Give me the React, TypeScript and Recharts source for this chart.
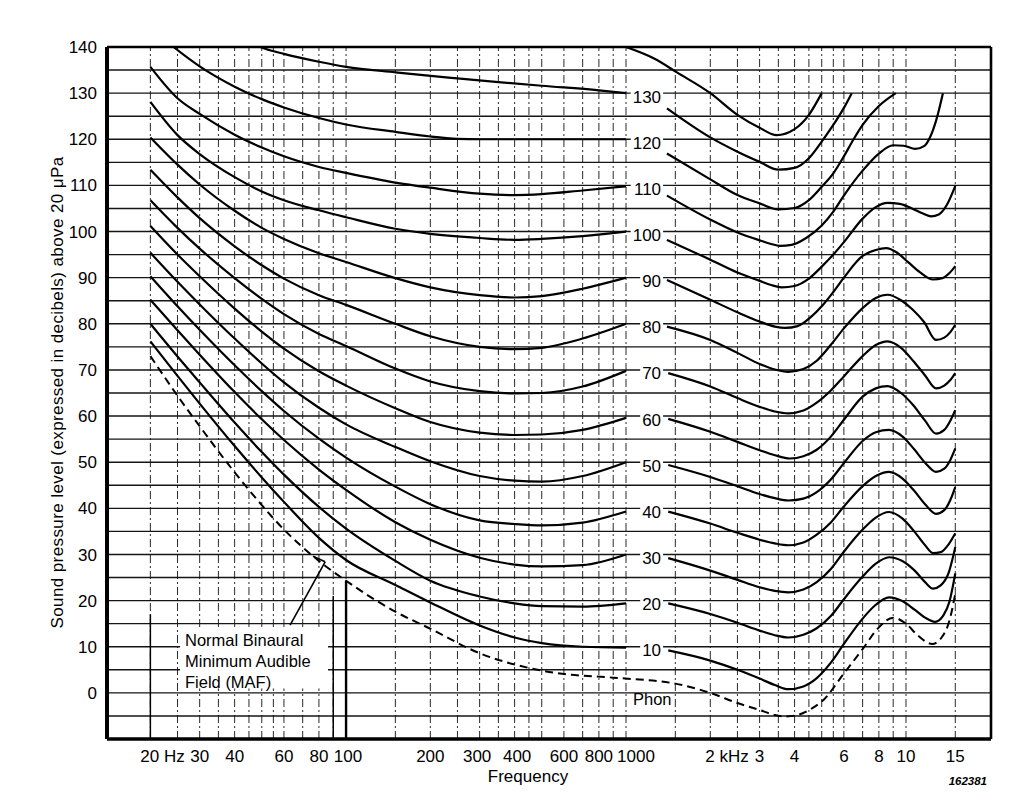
import React from "react";
import {
  ComposedChart,
  Line,
  Scatter,
  XAxis,
  YAxis,
  ReferenceLine,
  Label,
} from "recharts";

const FONT = "'Liberation Sans', Arial, Helvetica, sans-serif";
const INK = "#000";

// axes
const X_DOMAIN = [14.0, 20120];
const Y_DOMAIN = [-10, 140];
const X_TICKS = [20, 30, 40, 60, 80, 100, 200, 300, 400, 600, 800, 1000, 2000, 3000, 4000, 6000, 8000, 10000, 15000];
const X_TICK_LABELS = ["20 Hz", "30", "40", "60", "80", "100", "200", "300", "400", "600", "800", "1000", "2 kHz", "3", "4", "6", "8", "10", "15"];
const Y_TICKS = [0, 10, 20, 30, 40, 50, 60, 70, 80, 90, 100, 110, 120, 130, 140];
const H_GRID = [-5, 0, 5, 10, 15, 20, 25, 30, 35, 40, 45, 50, 55, 60, 65, 70, 75, 80, 85, 90, 95, 100, 105, 110, 115, 120, 125, 130, 135];
const V_GRID = [20, 25, 30, 35, 40, 45, 50, 55, 60, 70, 80, 90, 100, 150, 200, 250, 300, 350, 400, 450, 500, 600, 700, 800, 900, 1000, 1500, 2000, 2500, 3000, 3500, 4000, 4500, 5000, 5500, 6000, 7000, 8000, 9000, 10000, 15000];

type Pt = [number, number]; // [Hz, dB]

// minimum audible field (dashed)
const MAF: Pt[] = [[20, 73], [25, 64.4], [30, 57.8], [40, 47.8], [50, 40.7], [60, 35.4], [80, 28.6], [100, 24.3], [150, 17.6], [200, 13.9], [300, 8.6], [450, 5.4], [600, 4.1], [900, 3.3], [1500, 2], [2000, 0], [2500, -2.2], [3000, -3.7], [3400, -4.8], [3700, -5.1], [4100, -4.8], [4600, -3.4], [5000, -1.9], [6000, 4.2], [7000, 9.5], [8000, 14.2], [9000, 16.3], [10000, 15], [11000, 12.5], [12400, 10.6], [13400, 12], [14300, 15.7], [15000, 21.5]];

// equal loudness contours: part up to 1 kHz, and part after the label gap
const PHON_10_LOW: Pt[] = [[20, 76.2], [25, 68.7], [30, 62.7], [40, 53.5], [50, 46.7], [60, 41.4], [80, 33.6], [100, 28.8], [150, 23.4], [200, 19.6], [300, 14.6], [400, 12], [500, 10.8], [700, 10], [1000, 9.8]];
const PHON_10_HIGH: Pt[] = [[1415, 9.2], [2000, 7], [2500, 5], [3000, 3.1], [3400, 1.7], [3800, 0.8], [4300, 1.4], [4800, 3.2], [5400, 6.6], [6000, 10.6], [7000, 16.1], [7800, 19.1], [8700, 20.7], [9700, 19.9], [10700, 18.1], [11700, 16.3], [12700, 15.4], [13600, 16.8], [14300, 19.8], [15000, 25.9]];

const PHON_20_LOW: Pt[] = [[20, 80], [25, 72.9], [30, 67.3], [40, 58.6], [50, 52.2], [60, 47.3], [80, 40.3], [100, 35.6], [150, 28.6], [200, 24.3], [300, 20.9], [400, 19.4], [500, 18.8], [700, 18.7], [1000, 19.4]];
const PHON_20_HIGH: Pt[] = [[1415, 19.4], [2000, 17.1], [2500, 15.2], [3000, 13.5], [3400, 12.5], [3800, 12], [4300, 12.6], [4800, 14], [5400, 16.7], [6000, 20.3], [7000, 25.2], [7800, 28], [8700, 29.4], [9700, 28.6], [10700, 26.6], [11700, 24], [12500, 22.6], [13300, 23.3], [14200, 26], [15000, 31.6]];

const PHON_30_LOW: Pt[] = [[20, 85.2], [25, 78.6], [30, 73.3], [40, 65.2], [50, 59.3], [60, 54.8], [80, 48.4], [100, 44], [150, 37], [200, 33.2], [300, 29.3], [400, 27.8], [500, 27.4], [700, 27.7], [1000, 30]];
const PHON_30_HIGH: Pt[] = [[1415, 29.2], [2000, 26.5], [2500, 24.5], [3000, 22.9], [3400, 22.1], [3800, 21.8], [4300, 22.4], [4800, 24], [5400, 26.9], [6000, 30.6], [7000, 35.4], [7800, 38], [8700, 39.2], [9700, 37.8], [10700, 35], [11700, 32], [12500, 30.3], [13300, 30.5], [14200, 32.2], [15000, 34.6]];

const PHON_40_LOW: Pt[] = [[20, 90.3], [25, 83.8], [30, 78.7], [40, 71], [50, 65.4], [60, 61.1], [80, 55.1], [100, 51], [150, 44.7], [200, 40.9], [300, 37.4], [400, 36.6], [500, 36.3], [700, 36.9], [1000, 39.3]];
const PHON_40_HIGH: Pt[] = [[1415, 39.3], [2000, 36.7], [2500, 34.7], [3000, 33.2], [3400, 32.4], [3800, 32], [4300, 32.6], [4800, 34.3], [5400, 37], [6000, 40.4], [7000, 44.8], [7800, 47], [8700, 47.9], [9700, 46.5], [10700, 43.8], [11700, 40.9], [12800, 38.8], [13700, 39.6], [14400, 41.8], [15000, 44.6]];

const PHON_50_LOW: Pt[] = [[20, 95.4], [25, 89.1], [30, 84.2], [40, 76.8], [50, 71.4], [60, 67.3], [80, 61.8], [100, 58.2], [150, 53.3], [200, 50.2], [300, 47], [400, 46], [500, 45.8], [700, 47], [1000, 50]];
const PHON_50_HIGH: Pt[] = [[1415, 49.4], [2000, 46.8], [2500, 44.8], [3000, 43.1], [3400, 42.2], [3800, 41.7], [4300, 42.1], [4800, 43.5], [5400, 46.3], [6000, 49.8], [7000, 54.6], [7800, 56.5], [8700, 57], [9700, 55.6], [10700, 52.8], [11700, 49.9], [12800, 47.9], [13700, 48.6], [14400, 50.5], [15000, 53]];

const PHON_60_LOW: Pt[] = [[20, 101.2], [25, 95], [30, 90.3], [40, 83.3], [50, 78.3], [60, 74.6], [80, 69.7], [100, 66.6], [150, 61.7], [200, 58.7], [300, 56.4], [400, 55.9], [500, 56], [700, 57], [1000, 59.6]];
const PHON_60_HIGH: Pt[] = [[1415, 59.4], [2000, 56.6], [2500, 54.4], [3000, 52.6], [3400, 51.5], [3850, 50.8], [4300, 51.3], [4800, 52.7], [5400, 55.6], [6000, 59.2], [7000, 64.2], [7800, 66], [8600, 66.5], [9600, 65], [10600, 62.4], [11700, 59], [12800, 56.2], [13700, 57], [14400, 59], [15000, 61.3]];

const PHON_70_LOW: Pt[] = [[20, 106.8], [25, 100.8], [30, 96.3], [40, 89.9], [50, 85.4], [60, 82.1], [80, 77.8], [100, 75.2], [150, 70.3], [200, 67.5], [300, 65.4], [400, 64.9], [500, 65], [700, 66.4], [1000, 69.8]];
const PHON_70_HIGH: Pt[] = [[1415, 69.3], [2000, 66.4], [2500, 63.9], [3000, 62], [3400, 61], [3800, 60.6], [4300, 61.2], [4800, 62.9], [5400, 65.6], [6000, 68.6], [7000, 73], [7800, 75.4], [8600, 76.2], [9600, 74.8], [10600, 72], [11700, 68.8], [12800, 66], [13700, 66.6], [14400, 67.8], [15000, 69.3]];

const PHON_80_LOW: Pt[] = [[20, 113.4], [25, 107.4], [30, 102.9], [40, 96.8], [50, 92.7], [60, 89.8], [80, 86.2], [100, 84.1], [150, 80], [200, 77.3], [300, 75], [400, 74.5], [500, 74.8], [700, 76.8], [1000, 80]];
const PHON_80_HIGH: Pt[] = [[1400, 79.4], [2000, 76.5], [2500, 73.7], [3000, 71.3], [3400, 70.1], [3800, 69.6], [4300, 70.2], [4800, 72], [5400, 75.5], [6000, 79], [7000, 83.4], [7800, 85.6], [8600, 86.3], [9600, 85.1], [10600, 83], [11600, 80.4], [12800, 76.5], [13700, 77], [14400, 78.2], [15000, 79.8]];

const PHON_90_LOW: Pt[] = [[20, 120.4], [25, 114.5], [30, 110.2], [40, 104.5], [50, 100.8], [60, 98.4], [80, 95.3], [100, 93.4], [150, 89.9], [200, 87.9], [300, 86.2], [400, 85.7], [500, 86], [700, 87.6], [1000, 90]];
const PHON_90_HIGH: Pt[] = [[1400, 89.5], [2000, 85.2], [2500, 82.5], [3000, 80.5], [3400, 79.4], [3700, 79.1], [4100, 79.5], [4600, 81.6], [5000, 83.8], [5500, 86.9], [6000, 90], [7000, 94.7], [7800, 96], [8500, 96.4], [9300, 95.4], [10200, 93.3], [11200, 91.2], [12500, 89.6], [13500, 89.9], [14300, 91], [15000, 92.5]];

const PHON_100_LOW: Pt[] = [[20, 128.1], [25, 120.9], [30, 116.8], [40, 111.8], [50, 108.7], [60, 106.8], [80, 104.6], [100, 103.1], [150, 100.6], [200, 99.5], [300, 98.6], [400, 98.2], [500, 98.4], [700, 99], [1000, 100]];
const PHON_100_HIGH: Pt[] = [[1400, 98.2], [2000, 93.9], [2500, 91.1], [3000, 89.3], [3300, 88.4], [3600, 87.9], [4000, 88.2], [4500, 89.8], [5000, 92.4], [5500, 95], [6000, 97.7], [7000, 102.8], [7800, 105.3], [8600, 106.2], [9500, 106], [10500, 105], [11500, 103.9], [12300, 103.3], [13100, 103.7], [14000, 105.8], [15000, 109.9]];

const PHON_110_LOW: Pt[] = [[20, 135.7], [25, 128.9], [30, 125.5], [40, 121], [50, 118.2], [60, 116.3], [80, 114], [100, 112.7], [150, 110.6], [200, 109.5], [300, 108.2], [400, 107.9], [500, 108.1], [700, 108.9], [1000, 109.8]];
const PHON_110_HIGH: Pt[] = [[1400, 107.8], [2000, 102.6], [2500, 99.8], [3000, 98.1], [3300, 97.3], [3550, 96.9], [3900, 97.1], [4400, 98.6], [5000, 101.3], [5500, 104.3], [6000, 107.8], [7000, 113.2], [8000, 116.9], [9000, 118.7], [9800, 118.6], [10800, 117.9], [11600, 118.5], [12200, 120.5], [12800, 124], [13550, 130]];

const PHON_120_LOW: Pt[] = [[20, 144.2], [24.2, 140], [30, 135.8], [40, 131.4], [50, 128.7], [60, 126.9], [80, 124.6], [100, 123.2], [150, 121.6], [200, 120.6], [250, 120.1], [300, 120], [400, 120], [700, 120], [1000, 120]];
const PHON_120_HIGH: Pt[] = [[1400, 116.9], [2000, 111.3], [2500, 107.9], [3000, 106.1], [3500, 104.8], [4000, 105.1], [4500, 106.8], [5000, 109.7], [5500, 112.6], [6000, 116.3], [6500, 120], [7000, 123.1], [8000, 127.2], [9200, 130]];

const PHON_130_LOW: Pt[] = [[40, 143], [49.4, 140], [60, 138.5], [80, 136.8], [100, 135.7], [150, 134.5], [250, 133.2], [350, 132.4], [500, 131.6], [800, 130.6], [1000, 130]];
const PHON_130_HIGH: Pt[] = [[1400, 126.7], [2000, 120.4], [2500, 117.3], [3000, 115.1], [3500, 113.4], [4000, 113.8], [4500, 115.9], [5000, 119.5], [5500, 123.1], [6000, 126.8], [6400, 130]];

const PHON_140_HIGH: Pt[] = [[1000, 140], [1270, 137.4], [1520, 134.5], [2000, 130], [2500, 125.3], [3000, 122.5], [3450, 120.9], [4000, 122.2], [4500, 125.3], [5000, 130]];

const SEGMENTS: Pt[][] = [
  PHON_10_LOW, PHON_10_HIGH, PHON_20_LOW, PHON_20_HIGH, PHON_30_LOW, PHON_30_HIGH,
  PHON_40_LOW, PHON_40_HIGH, PHON_50_LOW, PHON_50_HIGH, PHON_60_LOW, PHON_60_HIGH,
  PHON_70_LOW, PHON_70_HIGH, PHON_80_LOW, PHON_80_HIGH, PHON_90_LOW, PHON_90_HIGH,
  PHON_100_LOW, PHON_100_HIGH, PHON_110_LOW, PHON_110_HIGH, PHON_120_LOW, PHON_120_HIGH,
  PHON_130_LOW, PHON_130_HIGH, PHON_140_HIGH,
];

// phon numbers written in the gap just above 1 kHz
const PHON_LEVELS = [130, 120, 110, 100, 90, 80, 70, 60, 50, 40, 30, 20, 10];
const PHON_LABEL_FREQ = 1334;

const MAF_NOTE = ["Normal Binaural", "Minimum Audible", "Field (MAF)"];
const NOTES = [
  { f: 26.6, db: 10.06, lines: MAF_NOTE, box: true },
  { f: 1059, db: -2.6, lines: ["Phon"], box: false },
];
const MAF_LEADER = [{ x: 63.1, y: 14.7 }, { x: 84.2, y: 28.4 }];
const MAF_BARB = [{ x: 76.2, y: 29.6 }, { x: 84.2, y: 28.4 }];

const toRows = (pts: Pt[]) => pts.map(([f, db]) => ({ f, db }));

const TICK_NUDGE: Record<number, [string, number]> = {
  20: ["start", -10],
  100: ["middle", 2],
  300: ["middle", -2.5],
  400: ["middle", 2.5],
  1000: ["middle", 10],
  2000: ["start", -5],
};

const FreqTick = (props: any) => {
  const { x, y, payload } = props;
  const i = X_TICKS.indexOf(payload.value);
  const [anchor, dx] = TICK_NUDGE[payload.value] ?? ["middle", 0];
  return (
    <text x={x + dx} y={y + 14.5} textAnchor={anchor} fontSize={17} fontFamily={FONT} fill={INK}>
      {X_TICK_LABELS[i]}
    </text>
  );
};

const PhonLabel = (props: any) => {
  const { cx, cy, payload } = props;
  const w = payload.label.length * 9.45;
  return (
    <g>
      <rect x={cx - w - 2} y={cy - 3} width={w + 4} height={14} fill="#fff" />
      <text x={cx} y={cy + 9.5} textAnchor="end" fontSize={17} fontFamily={FONT} fill={INK}>
        {payload.label}
      </text>
    </g>
  );
};

const NoteText = (props: any) => {
  const { cx, cy, payload } = props;
  return (
    <g>
      {payload.box ? <rect x={cx - 5} y={cy - 18} width={148} height={60} fill="#fff" /> : null}
      <text x={cx} y={cy} fontSize={16.5} fontFamily={FONT} fill={INK}>
        {payload.lines.map((t: string, i: number) => (
          <tspan key={i} x={cx} dy={i === 0 ? 0 : 20.8}>
            {t}
          </tspan>
        ))}
      </text>
    </g>
  );
};

const YTitle = (props: any) => {
  const { viewBox } = props;
  const tx = viewBox.x + 55;
  const ty = viewBox.y + viewBox.height / 2 - 0.5;
  return (
    <text
      x={tx}
      y={ty}
      transform={`rotate(-90, ${tx}, ${ty})`}
      textAnchor="middle"
      fontSize={17}
      letterSpacing={0.4}
      fontFamily={FONT}
      fill={INK}
    >
      Sound pressure level (expressed in decibels) above 20 μPa
    </text>
  );
};

const XTitle = (props: any) => {
  const { viewBox } = props;
  return (
    <g>
      <text x={viewBox.x + 421} y={viewBox.y + 42.5} textAnchor="middle" fontSize={17} fontFamily={FONT} fill={INK}>
        Frequency
      </text>
      <text
        x={viewBox.x + 880}
        y={viewBox.y + 46}
        textAnchor="end"
        fontSize={11.5}
        fontWeight="bold"
        fontStyle="italic"
        fontFamily={FONT}
        fill={INK}
      >
        162381
      </text>
    </g>
  );
};

export default function App() {
  const labelRows = PHON_LEVELS.map((p) => ({ f: PHON_LABEL_FREQ, db: p, label: String(p) }));
  return (
    <div style={{ width: 1000, height: 780, background: "#fff" }}>
      <ComposedChart width={1000} height={780} margin={{ top: 39, right: 17, bottom: 0, left: 0 }}>
        <XAxis
          type="number"
          dataKey="f"
          scale="log"
          domain={X_DOMAIN}
          allowDataOverflow
          ticks={X_TICKS}
          interval={0}
          tick={<FreqTick />}
          tickLine={false}
          axisLine={{ stroke: INK, strokeWidth: 3.5 }}
          height={49}
        >
          <Label content={<XTitle />} />
        </XAxis>
        <YAxis
          type="number"
          domain={Y_DOMAIN}
          allowDataOverflow
          ticks={Y_TICKS}
          interval={0}
          width={99}
          tickLine={false}
          tickMargin={4}
          tick={{ fill: INK, fontSize: 17, fontFamily: FONT }}
          axisLine={{ stroke: INK, strokeWidth: 4 }}
        >
          <Label content={<YTitle />} />
        </YAxis>

        {V_GRID.map((f) => (
          <ReferenceLine key={`v${f}`} x={f} stroke="#2a2a2a" strokeWidth={1} strokeDasharray="8 3 2 3" />
        ))}
        {H_GRID.map((v) => (
          <ReferenceLine key={`h${v}`} y={v} stroke="#151515" strokeWidth={1.4} />
        ))}
        <ReferenceLine y={140} stroke={INK} strokeWidth={2.6} ifOverflow="visible" />
        <ReferenceLine x={X_DOMAIN[1]} stroke={INK} strokeWidth={2.6} ifOverflow="visible" />
        <ReferenceLine segment={[{ x: 100, y: -10 }, { x: 100, y: 24.3 }]} stroke={INK} strokeWidth={2.4} />
        <ReferenceLine segment={[{ x: 90, y: -10 }, { x: 90, y: 21 }]} stroke={INK} strokeWidth={1.5} />
        <ReferenceLine segment={[{ x: 20, y: -10 }, { x: 20, y: 17 }]} stroke={INK} strokeWidth={1.5} />
        <ReferenceLine segment={MAF_LEADER} stroke={INK} strokeWidth={1.6} />
        <ReferenceLine segment={MAF_BARB} stroke={INK} strokeWidth={1.6} />

        {SEGMENTS.map((seg, i) => (
          <Line
            key={`c${i}`}
            data={toRows(seg)}
            dataKey="db"
            type="monotone"
            stroke={INK}
            strokeWidth={2.2}
            dot={false}
            activeDot={false}
            isAnimationActive={false}
          />
        ))}
        <Line
          data={toRows(MAF)}
          dataKey="db"
          type="monotone"
          stroke={INK}
          strokeWidth={2}
          strokeDasharray="8 5"
          dot={false}
          activeDot={false}
          isAnimationActive={false}
        />
        <Scatter data={labelRows} dataKey="db" shape={<PhonLabel />} isAnimationActive={false} />
        <Scatter data={NOTES} dataKey="db" shape={<NoteText />} isAnimationActive={false} />
      </ComposedChart>
    </div>
  );
}
